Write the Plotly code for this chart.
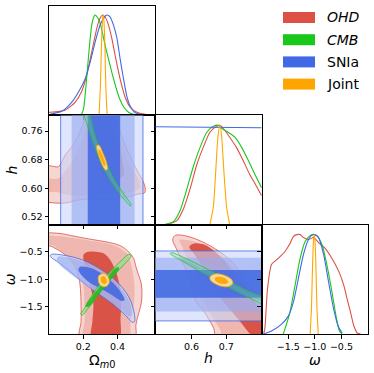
import plotly.graph_objects as go

# ---------------- data ----------------
SERIES = ["OHD", "CMB", "SNIa", "Joint"]

# 1D marginals: Omega_m0
OM_OHD_X = [-0.005, 0.006, 0.093, 0.152, 0.191, 0.220, 0.249, 0.279, 0.298, 0.312, 0.327, 0.347, 0.366, 0.390, 0.415, 0.444, 0.474, 0.513, 0.561, 0.620]
OM_OHD_P = [0.03, 0.03, 0.05, 0.13, 0.24, 0.40, 0.63, 0.87, 0.97, 1.00, 0.98, 0.90, 0.77, 0.56, 0.36, 0.18, 0.08, 0.03, 0.01, 0.00]
OM_CMB_X = [0.187, 0.201, 0.214, 0.226, 0.238, 0.249, 0.261, 0.269, 0.281, 0.296, 0.312, 0.327, 0.347, 0.366, 0.390, 0.413, 0.437, 0.464, 0.493, 0.522]
OM_CMB_P = [0.00, 0.06, 0.26, 0.50, 0.73, 0.90, 0.98, 1.00, 0.98, 0.93, 0.82, 0.70, 0.56, 0.43, 0.28, 0.16, 0.08, 0.03, 0.01, 0.00]
OM_SN_X = [0.006, 0.074, 0.132, 0.171, 0.210, 0.240, 0.269, 0.298, 0.323, 0.337, 0.357, 0.376, 0.396, 0.415, 0.435, 0.454, 0.474, 0.499, 0.532, 0.561]
OM_SN_P = [0.01, 0.04, 0.13, 0.23, 0.36, 0.53, 0.73, 0.90, 0.98, 1.00, 0.98, 0.90, 0.77, 0.56, 0.36, 0.19, 0.09, 0.03, 0.01, 0.00]
OM_JT_X = [0.292, 0.300, 0.306, 0.312, 0.316, 0.320, 0.326, 0.331, 0.339]
OM_JT_P = [0.00, 0.30, 0.70, 0.95, 1.00, 0.95, 0.70, 0.30, 0.00]

# 1D marginals: h
H_OHD_X = [0.529, 0.558, 0.577, 0.596, 0.615, 0.634, 0.653, 0.672, 0.682, 0.691, 0.710, 0.729, 0.748, 0.767, 0.785, 0.802]
H_OHD_P = [0.00, 0.04, 0.16, 0.36, 0.60, 0.78, 0.93, 0.99, 1.00, 0.97, 0.88, 0.78, 0.65, 0.51, 0.40, 0.29]
H_CMB_X = [0.520, 0.548, 0.567, 0.586, 0.605, 0.625, 0.644, 0.663, 0.677, 0.686, 0.705, 0.725, 0.744, 0.763, 0.782, 0.802]
H_CMB_P = [0.00, 0.03, 0.14, 0.35, 0.58, 0.78, 0.93, 0.99, 1.00, 0.97, 0.93, 0.88, 0.78, 0.65, 0.51, 0.37]
H_SN_X = [0.496, 0.802]
H_SN_P = [0.985, 0.975]
H_JT_X = [0.653, 0.663, 0.670, 0.676, 0.682, 0.687, 0.693, 0.701, 0.710]
H_JT_P = [0.00, 0.18, 0.55, 0.88, 1.00, 0.88, 0.55, 0.18, 0.00]

# 1D marginals: omega
W_OHD_X = [-1.960, -1.941, -1.891, -1.815, -1.689, -1.562, -1.467, -1.404, -1.341, -1.277, -1.214, -1.119, -1.024, -0.930, -0.803, -0.677, -0.550, -0.455, -0.392, -0.329, -0.265, -0.202, -0.139]
W_OHD_P = [0.01, 0.05, 0.45, 0.70, 0.76, 0.83, 0.91, 0.98, 1.00, 1.00, 0.97, 0.95, 0.97, 0.92, 0.86, 0.76, 0.63, 0.49, 0.35, 0.22, 0.08, 0.01, 0.00]
W_CMB_X = [-1.594, -1.562, -1.467, -1.372, -1.277, -1.183, -1.088, -1.024, -0.961, -0.866, -0.771, -0.677, -0.601, -0.537, -0.487]
W_CMB_P = [0.00, 0.05, 0.22, 0.49, 0.76, 0.93, 0.99, 1.00, 0.99, 0.90, 0.69, 0.42, 0.18, 0.03, 0.00]
W_SN_X = [-1.973, -1.815, -1.625, -1.499, -1.404, -1.309, -1.214, -1.119, -1.043, -1.005, -0.930, -0.835, -0.740, -0.645, -0.563, -0.487]
W_SN_P = [0.00, 0.03, 0.10, 0.18, 0.32, 0.56, 0.80, 0.95, 1.00, 1.00, 0.97, 0.80, 0.52, 0.25, 0.08, 0.01]
W_JT_X = [-1.088, -1.062, -1.043, -1.024, -1.012, -0.999, -0.980, -0.961, -0.936]
W_JT_P = [0.00, 0.28, 0.69, 0.95, 1.00, 0.95, 0.69, 0.28, 0.00]

# 2D contours (Omega_m0, h): outer (L3), middle (L2), inner (L1)
OHD_OMH_L3 = [(-0.043, 0.664), (0.015, 0.662), (0.054, 0.660), (0.074, 0.673), (0.093, 0.692), (0.123, 0.710), (0.152, 0.729), (0.175, 0.752), (0.195, 0.775), (0.210, 0.798), (0.218, 0.822), (0.386, 0.822), (0.396, 0.798), (0.415, 0.761), (0.444, 0.720), (0.479, 0.683), (0.513, 0.650), (0.546, 0.622), (0.561, 0.601), (0.557, 0.587), (0.522, 0.584), (0.464, 0.576), (0.386, 0.570), (0.308, 0.569), (0.230, 0.570), (0.171, 0.567), (0.113, 0.560), (0.054, 0.558), (0.006, 0.560), (-0.043, 0.560)]
OHD_OMH_L2 = [(-0.043, 0.627), (0.054, 0.627), (0.093, 0.646), (0.132, 0.673), (0.171, 0.710), (0.201, 0.748), (0.220, 0.785), (0.230, 0.822), (0.376, 0.822), (0.386, 0.785), (0.405, 0.748), (0.435, 0.706), (0.474, 0.664), (0.513, 0.632), (0.532, 0.604), (0.503, 0.592), (0.425, 0.585), (0.327, 0.581), (0.230, 0.581), (0.152, 0.579), (0.074, 0.585), (0.035, 0.590), (-0.043, 0.590)]
OHD_OMH_L1 = [(0.249, 0.822), (0.246, 0.785), (0.253, 0.738), (0.269, 0.692), (0.298, 0.655), (0.337, 0.632), (0.396, 0.627), (0.435, 0.636), (0.429, 0.673), (0.409, 0.720), (0.396, 0.766), (0.390, 0.822)]
CMB_OMH_L2 = [(0.201, 0.822), (0.237, 0.757), (0.270, 0.710), (0.310, 0.664), (0.363, 0.618), (0.417, 0.581), (0.468, 0.553), (0.475, 0.550), (0.477, 0.555), (0.441, 0.581), (0.389, 0.618), (0.340, 0.664), (0.296, 0.710), (0.263, 0.757), (0.224, 0.822)]
CMB_OMH_L1 = [(0.209, 0.822), (0.246, 0.757), (0.280, 0.710), (0.323, 0.664), (0.373, 0.618), (0.426, 0.583), (0.462, 0.562), (0.433, 0.583), (0.380, 0.618), (0.329, 0.664), (0.287, 0.710), (0.254, 0.757), (0.216, 0.822)]
JT_OMH_L2 = [(0.281, 0.720), (0.292, 0.720), (0.312, 0.701), (0.331, 0.678), (0.341, 0.655), (0.333, 0.650), (0.322, 0.655), (0.302, 0.675), (0.285, 0.699), (0.277, 0.715)]
JT_OMH_L1 = [(0.292, 0.709), (0.308, 0.697), (0.323, 0.678), (0.329, 0.664), (0.322, 0.662), (0.308, 0.675), (0.294, 0.692), (0.288, 0.704)]
SN_OM_BANDS = [(0.068, 0.548), (0.132, 0.499), (0.226, 0.415)]

# 2D contours (Omega_m0, omega)
OHD_OMW_L3 = [(-0.043, -0.177), (0.054, -0.158), (0.113, -0.189), (0.191, -0.238), (0.269, -0.280), (0.347, -0.323), (0.415, -0.384), (0.464, -0.494), (0.493, -0.615), (0.507, -0.768), (0.522, -0.920), (0.538, -1.073), (0.542, -1.255), (0.538, -1.438), (0.526, -1.590), (0.515, -1.712), (0.507, -1.834), (0.499, -2.078), (0.181, -2.078), (0.187, -1.773), (0.187, -1.469), (0.183, -1.164), (0.171, -0.920), (0.148, -0.737), (0.103, -0.573), (0.054, -0.463), (0.000, -0.384), (-0.043, -0.384)]
OHD_OMW_L2 = [(-0.043, -0.219), (0.054, -0.207), (0.152, -0.250), (0.249, -0.299), (0.347, -0.347), (0.415, -0.433), (0.460, -0.555), (0.479, -0.737), (0.493, -0.951), (0.499, -1.194), (0.495, -1.438), (0.483, -1.651), (0.474, -1.834), (0.468, -2.078), (0.201, -2.078), (0.207, -1.773), (0.207, -1.469), (0.203, -1.164), (0.191, -0.951), (0.168, -0.798), (0.129, -0.664), (0.084, -0.530), (0.025, -0.380), (-0.043, -0.330)]
OHD_OMW_L1 = [(0.201, -0.555), (0.220, -0.506), (0.269, -0.494), (0.318, -0.524), (0.357, -0.646), (0.390, -0.859), (0.411, -1.103), (0.421, -1.408), (0.417, -1.712), (0.409, -2.078), (0.249, -2.078), (0.253, -1.773), (0.259, -1.469), (0.249, -1.225), (0.226, -0.981), (0.207, -0.737)]
SN_OMW_L3 = [(0.015, -0.543), (0.113, -0.573), (0.210, -0.664), (0.308, -0.829), (0.396, -1.042), (0.464, -1.316), (0.493, -1.560), (0.499, -1.773), (0.487, -1.786), (0.444, -1.651), (0.366, -1.438), (0.298, -1.286), (0.230, -1.133), (0.171, -0.981), (0.113, -0.829), (0.054, -0.689), (0.015, -0.603), (0.008, -0.567)]
SN_OMW_L2 = [(0.054, -0.585), (0.132, -0.615), (0.220, -0.707), (0.308, -0.859), (0.396, -1.079), (0.460, -1.347), (0.483, -1.590), (0.479, -1.682), (0.454, -1.651), (0.396, -1.499), (0.318, -1.316), (0.240, -1.164), (0.171, -1.012), (0.113, -0.872), (0.064, -0.737), (0.045, -0.646)]
SN_OMW_L1 = [(0.181, -0.768), (0.249, -0.798), (0.318, -0.920), (0.386, -1.103), (0.429, -1.286), (0.440, -1.377), (0.425, -1.396), (0.366, -1.286), (0.298, -1.164), (0.230, -1.042), (0.181, -0.890), (0.171, -0.817)]
CMB_OMW_L2 = [(0.191, -1.603), (0.249, -1.298), (0.308, -1.042), (0.366, -0.829), (0.425, -0.646), (0.464, -0.543), (0.479, -0.573), (0.444, -0.707), (0.386, -0.902), (0.327, -1.115), (0.269, -1.359), (0.210, -1.603), (0.195, -1.651), (0.183, -1.627)]
CMB_OMW_L1 = [(0.216, -1.469), (0.269, -1.243), (0.327, -1.018), (0.390, -0.786), (0.405, -0.774), (0.409, -0.811), (0.351, -1.042), (0.288, -1.286), (0.234, -1.499), (0.218, -1.505)]
JT_OMW_L2 = [(0.288, -0.951), (0.304, -0.902), (0.327, -0.902), (0.347, -0.969), (0.351, -1.061), (0.335, -1.127), (0.312, -1.133), (0.292, -1.073)]
JT_OMW_L1 = [(0.302, -0.969), (0.318, -0.939), (0.333, -0.981), (0.337, -1.054), (0.323, -1.091), (0.306, -1.054)]

# 2D contours (h, omega)
OHD_HW_L3 = [(0.546, -0.280), (0.552, -0.201), (0.568, -0.189), (0.602, -0.238), (0.640, -0.341), (0.678, -0.481), (0.711, -0.646), (0.740, -0.859), (0.764, -1.073), (0.783, -1.255), (0.811, -1.469), (0.821, -2.078), (0.673, -2.078), (0.664, -1.895), (0.651, -1.743), (0.635, -1.578), (0.616, -1.438), (0.606, -1.286), (0.602, -1.103), (0.587, -0.859), (0.571, -0.646), (0.556, -0.433)]
OHD_HW_L2 = [(0.565, -0.280), (0.602, -0.299), (0.640, -0.402), (0.678, -0.543), (0.706, -0.689), (0.730, -0.872), (0.754, -1.085), (0.773, -1.268), (0.792, -1.438), (0.821, -1.517), (0.821, -2.078), (0.692, -2.078), (0.683, -1.926), (0.668, -1.773), (0.654, -1.621), (0.640, -1.469), (0.630, -1.286), (0.621, -1.073), (0.606, -0.859), (0.587, -0.615), (0.573, -0.402)]
OHD_HW_L1 = [(0.594, -0.402), (0.611, -0.341), (0.640, -0.372), (0.668, -0.494), (0.697, -0.676), (0.725, -0.920), (0.754, -1.164), (0.783, -1.408), (0.802, -1.560), (0.821, -1.621), (0.821, -2.078), (0.783, -2.078), (0.759, -1.926), (0.740, -1.773), (0.716, -1.590), (0.692, -1.408), (0.668, -1.194), (0.645, -0.951), (0.625, -0.707), (0.606, -0.524)]
CMB_HW_L2 = [(0.543, -0.512), (0.583, -0.615), (0.630, -0.762), (0.678, -0.920), (0.725, -1.091), (0.773, -1.243), (0.821, -1.359), (0.821, -1.481), (0.773, -1.359), (0.725, -1.207), (0.678, -1.042), (0.630, -0.872), (0.583, -0.701), (0.545, -0.561), (0.539, -0.530)]
CMB_HW_L1 = [(0.573, -0.628), (0.630, -0.798), (0.678, -0.957), (0.725, -1.133), (0.773, -1.286), (0.821, -1.396), (0.821, -1.444), (0.773, -1.322), (0.725, -1.170), (0.678, -1.006), (0.630, -0.835), (0.573, -0.664)]
JT_HW_L2 = [(0.654, -0.951), (0.668, -0.902), (0.692, -0.920), (0.714, -0.994), (0.719, -1.073), (0.706, -1.133), (0.683, -1.121), (0.661, -1.054), (0.653, -0.994)]
JT_HW_L1 = [(0.668, -0.969), (0.683, -0.951), (0.699, -0.988), (0.706, -1.054), (0.697, -1.085), (0.678, -1.067), (0.668, -1.018)]
SN_W_BANDS = [(-1.761, -0.481), (-1.590, -0.603), (-1.335, -0.829)]

# axes
OM_RANGE = [0.0, 0.62]
H_RANGE_X = [0.496, 0.802]
H_RANGE_Y = [0.498, 0.804]
W_RANGE = [-2.0, 0.0]
OM_TICKS = [0.2, 0.4]
OM_TICKTEXT = ["0.2", "0.4"]
H_TICKS_X = [0.6, 0.7]
H_TICKTEXT_X = ["0.6", "0.7"]
H_TICKS_Y = [0.52, 0.60, 0.68, 0.76]
H_TICKTEXT_Y = ["0.52", "0.60", "0.68", "0.76"]
W_TICKS = [-1.5, -1.0, -0.5]
W_TICKTEXT = ["\u22121.5", "\u22121.0", "\u22120.5"]

# ---------------- styles ----------------
BASE = {"OHD": "rgb(220,80,70)", "CMB": "rgb(25,200,25)", "SNIa": "rgb(65,105,230)", "Joint": "rgb(255,165,0)"}
FILLS = {
    "OHD": ["rgba(235,150,140,0.40)", "rgba(232,140,130,0.42)", "rgba(215,75,62,0.92)"],
    "SNIa": ["rgba(200,212,250,0.6)", "rgba(150,170,240,0.62)", "rgba(65,105,225,0.88)"],
    "CMB": ["rgba(140,225,140,0.6)", "rgba(30,185,30,0.85)"],
    "CMBthin": ["rgba(120,220,150,0.30)", "rgba(60,190,120,0.30)"],
    "Joint": ["rgba(255,225,150,0.92)", "rgba(255,165,0,0.95)"],
}
FONT = "DejaVu Sans"
W, H = 374, 373
ML, MR, MT, MB = 49, 6, 6, 39

fig = go.Figure()


def poly(pts, xa, ya, fill, line=None, shape="spline", lw=0.8):
    xs = [p[0] for p in pts] + [pts[0][0]]
    ys = [p[1] for p in pts] + [pts[0][1]]
    fig.add_trace(go.Scatter(
        x=xs, y=ys, xaxis=xa, yaxis=ya, mode="lines", fill="toself", fillcolor=fill,
        line=dict(color=line if line else "rgba(0,0,0,0)", width=lw if line else 0,
                  shape=shape, smoothing=0.9),
        hoverinfo="skip", showlegend=False))


def curve(xs, ps, xa, ya, color):
    fig.add_trace(go.Scatter(
        x=xs, y=ps, xaxis=xa, yaxis=ya, mode="lines",
        line=dict(color=color, width=1.1, shape="spline", smoothing=0.6),
        hoverinfo="skip", showlegend=False))


def bands_x(bands, xa, ya, yr):
    for i, (lo, hi) in enumerate(bands):
        poly([(lo, yr[0]), (hi, yr[0]), (hi, yr[1]), (lo, yr[1])], xa, ya, FILLS["SNIa"][i],
             BASE["SNIa"] if i == 0 else None, shape="linear")


def bands_y(bands, xa, ya, xr):
    for i, (lo, hi) in enumerate(bands):
        poly([(xr[0], lo), (xr[1], lo), (xr[1], hi), (xr[0], hi)], xa, ya, FILLS["SNIa"][i],
             BASE["SNIa"] if i == 0 else None, shape="linear")


def levels(name, lvls, xa, ya, fills=None, lw=0.8):
    fl = fills or FILLS[name]
    for i, pts in enumerate(lvls):
        poly(pts, xa, ya, fl[i], BASE[name] if i == 0 else None, lw=lw)


EXT_H = [0.4, 0.9]

# panel A: Omega 1D
curve(OM_OHD_X, OM_OHD_P, "x", "y", BASE["OHD"])
curve(OM_CMB_X, OM_CMB_P, "x", "y", BASE["CMB"])
curve(OM_SN_X, OM_SN_P, "x", "y", BASE["SNIa"])
curve(OM_JT_X, OM_JT_P, "x", "y", BASE["Joint"])

# panel B: Omega vs h
levels("OHD", [OHD_OMH_L3, OHD_OMH_L2, OHD_OMH_L1], "x2", "y2")
bands_x(SN_OM_BANDS, "x2", "y2", EXT_H)
levels("CMB", [CMB_OMH_L2, CMB_OMH_L1], "x2", "y2", FILLS["CMBthin"], 0.7)
levels("Joint", [JT_OMH_L2, JT_OMH_L1], "x2", "y2")

# panel C: Omega vs omega
levels("OHD", [OHD_OMW_L3, OHD_OMW_L2, OHD_OMW_L1], "x3", "y3")
levels("SNIa", [SN_OMW_L3, SN_OMW_L2, SN_OMW_L1], "x3", "y3")
levels("CMB", [CMB_OMW_L2, CMB_OMW_L1], "x3", "y3")
levels("Joint", [JT_OMW_L2, JT_OMW_L1], "x3", "y3")

# panel D: h 1D
curve(H_OHD_X, H_OHD_P, "x4", "y4", BASE["OHD"])
curve(H_CMB_X, H_CMB_P, "x4", "y4", BASE["CMB"])
curve(H_SN_X, H_SN_P, "x4", "y4", BASE["SNIa"])
curve(H_JT_X, H_JT_P, "x4", "y4", BASE["Joint"])
fig.add_trace(go.Scatter(x=[], y=[], xaxis="x4", yaxis="y7", showlegend=False))

# panel E: h vs omega
levels("OHD", [OHD_HW_L3, OHD_HW_L2, OHD_HW_L1], "x5", "y5")
bands_y(SN_W_BANDS, "x5", "y5", EXT_H)
levels("CMB", [CMB_HW_L2, CMB_HW_L1], "x5", "y5", FILLS["CMBthin"], 0.7)
levels("Joint", [JT_HW_L2, JT_HW_L1], "x5", "y5")

# panel F: omega 1D
curve(W_OHD_X, W_OHD_P, "x6", "y6", BASE["OHD"])
curve(W_CMB_X, W_CMB_P, "x6", "y6", BASE["CMB"])
curve(W_SN_X, W_SN_P, "x6", "y6", BASE["SNIa"])
curve(W_JT_X, W_JT_P, "x6", "y6", BASE["Joint"])
fig.add_trace(go.Scatter(x=[], y=[], xaxis="x6", yaxis="y8", showlegend=False))

COLS = [[0.0, 1 / 3], [1 / 3, 2 / 3], [2 / 3, 1.0]]
ROWS = [[2 / 3, 1.0], [1 / 3, 2 / 3], [0.0, 1 / 3]]
TF = dict(family=FONT, size=9.5, color="black")
TITF = dict(family=FONT, size=14, color="black")


def ax(domain, rng, anchor, tickvals=None, ticktext=None, labels=False, title=None, standoff=2):
    d = dict(domain=domain, range=rng, anchor=anchor, showline=True, mirror=True,
             linecolor="black", linewidth=1, showgrid=False, zeroline=False,
             ticks="outside" if tickvals else "", ticklen=3.5, tickwidth=1, tickcolor="black",
             tickfont=TF, automargin=False)
    if tickvals:
        d["tickvals"] = tickvals
        d["ticktext"] = ticktext if ticktext else [str(v) for v in tickvals]
    d["showticklabels"] = labels
    if title:
        d["title"] = dict(text=title, font=TITF, standoff=standoff)
    return d


fig.update_layout(
    width=W, height=H, margin=dict(l=ML, r=MR, t=MT, b=MB),
    paper_bgcolor="white", plot_bgcolor="white", showlegend=False,
    xaxis=ax(COLS[0], OM_RANGE, "y", OM_TICKS),
    yaxis=ax(ROWS[0], [0, 1.09], "x"),
    xaxis2=ax(COLS[0], OM_RANGE, "y2", OM_TICKS),
    yaxis2=ax(ROWS[1], H_RANGE_Y, "x2", H_TICKS_Y, H_TICKTEXT_Y, True, "<i>h</i>", 0),
    xaxis3=ax(COLS[0], OM_RANGE, "y3", OM_TICKS, OM_TICKTEXT, True, "\u03a9<sub><i>m</i>0</sub>", 2),
    yaxis3=ax(ROWS[2], W_RANGE, "x3", W_TICKS, W_TICKTEXT, True, "<i>\u03c9</i>", 0),
    xaxis4=ax(COLS[1], H_RANGE_X, "y4", H_TICKS_X),
    yaxis4=ax(ROWS[1], [0, 1.1], "x4"),
    xaxis5=ax(COLS[1], H_RANGE_X, "y5", H_TICKS_X, H_TICKTEXT_X, True, "<i>h</i>", 2),
    yaxis5=ax(ROWS[2], W_RANGE, "x5", W_TICKS),
    xaxis6=ax(COLS[2], W_RANGE, "y6", W_TICKS, W_TICKTEXT, True, "<i>\u03c9</i>", 2),
    yaxis6=ax(ROWS[2], [0, 1.1], "x6"),
)
fig.layout.yaxis7 = dict(overlaying="y4", anchor="x4", range=H_RANGE_Y, tickvals=H_TICKS_Y,
                         showticklabels=False, ticks="outside", ticklen=3.5, tickcolor="black",
                         showgrid=False, zeroline=False, showline=False)
fig.layout.yaxis8 = dict(overlaying="y6", anchor="x6", range=W_RANGE, tickvals=W_TICKS,
                         showticklabels=False, ticks="outside", ticklen=3.5, tickcolor="black",
                         showgrid=False, zeroline=False, showline=False)

# legend drawn as patches + text (pixel layout -> paper coords)
PW, PH = W - ML - MR, H - MT - MB


def px_x(px):
    return (px - ML) / PW


def px_y(py):
    return (H - MB - py) / PH


LEG_LABELS = ["<i>OHD</i>", "<i>CMB</i>", "SNIa", "Joint"]
for i, name in enumerate(SERIES):
    cy = 17.5 + i * 22.2
    fig.add_shape(type="rect", xref="paper", yref="paper",
                  x0=px_x(283), x1=px_x(315), y0=px_y(cy + 5.5), y1=px_y(cy - 5.5),
                  fillcolor=BASE[name], line=dict(width=0))
    fig.add_annotation(xref="paper", yref="paper", x=px_x(325), y=px_y(cy), xanchor="left",
                       yanchor="middle", text=LEG_LABELS[i], showarrow=False,
                       font=dict(family=FONT, size=14, color="black"))

fig.write_html("out.html", config={"displayModeBar": False},
               post_script="document.body.style.margin='0px';document.body.style.overflow='hidden';")
